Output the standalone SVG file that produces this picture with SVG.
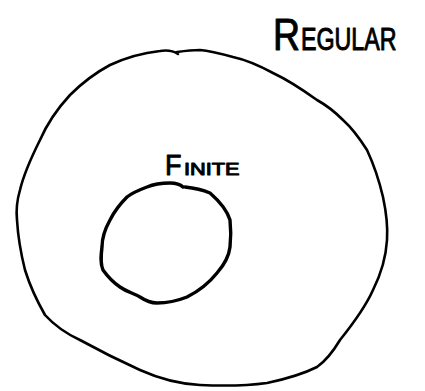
<svg xmlns="http://www.w3.org/2000/svg" width="425" height="391" viewBox="0 0 425 391">
<style>
.ring{fill:none;stroke:#000;stroke-linecap:round;stroke-linejoin:round}
.lbl{font-family:"Liberation Sans","DejaVu Sans",sans-serif;fill:#000;stroke:#000;stroke-width:1;stroke-linejoin:round}
</style>
<rect width="425" height="391" fill="#fff"/>
<g id="regular">
<path class="ring" stroke-width="2.6" d="M178,54 C172,50 166,50 160,51 C142,53 125,58 110,65 C95,73 82,83 70,95 C58,108 47,124 40,140 C32,156 24,173 20,190 C17,200 16,210 17,220 C18,237 21,254 25,270 C30,286 37,301 45,315 C55,326 67,334 80,340 C100,351 120,361 140,370 C160,379 180,384 200,385 C222,386 245,386 267,383 C286,379 303,374 317,367 C327,360 334,350 340,340 C352,325 365,308 373,290 C381,274 386,257 387,240 C388,225 386,211 383,197 C379,180 374,165 367,150 C360,139 352,128 343,120 C335,112 326,105 317,100 C303,90 288,80 273,73 C260,66 247,60 233,57 C222,54 211,51 200,50 C192,50 184,51 177,52"/>
<text class="lbl" transform="translate(273,50) scale(0.85,1)" font-size="44">R</text>
<text class="lbl" transform="translate(301,50) scale(0.75,1)" font-size="31">EGULAR</text>
</g>
<g id="finite">
<path class="ring" stroke-width="3.4" d="M183,187 C180,184 175,183 170,183 C162,183 154,184 147,187 C139,190 132,193 127,197 C120,204 114,212 110,220 C105,229 102,238 102,247 C101,255 100,263 103,270 C108,277 114,283 120,287 C127,292 133,293 140,297 C146,301 151,303 157,303 C167,303 177,301 187,297 C199,291 209,283 217,273 C224,265 229,256 230,247 C231,238 231,229 230,220 C227,210 218,200 210,193 C203,190 195,188 185,187"/>
<text class="lbl" transform="translate(165,175) scale(0.9,1)" font-size="30">F</text>
<text class="lbl" transform="translate(184,175) scale(1.28,1)" font-size="17">INITE</text>
</g>
</svg>
